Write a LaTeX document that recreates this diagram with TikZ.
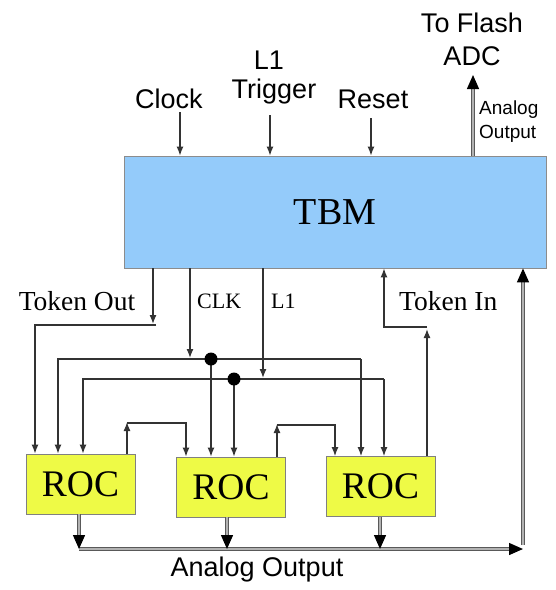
\documentclass[tikz,border=0pt]{standalone}
\usepackage{fontspec}
\setmainfont{Liberation Serif}
\newfontfamily\arialf{Liberation Sans}
\usetikzlibrary{arrows.meta}
\definecolor{tbmblue}{RGB}{148,203,250}
\definecolor{rocyellow}{RGB}{238,250,70}
\begin{document}
\begin{tikzpicture}[x=1pt,y=-1pt,
  wire/.style={draw=black!80, line width=1.3pt},
  arr/.style={wire, -{Latex[length=9pt,width=7pt]}},
  dbl/.style={draw=black!65, double=black!30, double distance=1.6pt, line width=1.4pt},
  darr/.style={dbl, -{Triangle[length=14pt,width=12pt,color=black]}},
  sans/.style={font=\arialf\fontsize{27}{30}\selectfont, inner sep=0pt},
  smallsans/.style={font=\arialf\fontsize{19}{22}\selectfont, inner sep=0pt},
  ser/.style={font=\fontsize{27.5}{30}\selectfont, inner sep=0pt},
  smallser/.style={font=\fontsize{22}{24}\selectfont, inner sep=0pt},
  tbmbox/.style={draw=black!45, line width=0.8pt, fill=tbmblue, minimum width=422pt, minimum height=112pt, font=\fontsize{38}{40}\selectfont},
  rocbox/.style={draw=black!50, line width=0.8pt, fill=rocyellow, minimum width=109pt, minimum height=60pt, font=\fontsize{37.5}{40}\selectfont, inner sep=0pt},
  jdot/.style={fill=black}
]
\useasboundingbox (0,0) rectangle (556,590);

% boxes
\node[tbmbox] (tbm) at (335,212) {TBM};
\node[rocbox] (roc1) at (80.5,484) {ROC};
\node[rocbox] (roc2) at (231,487) {ROC};
\node[rocbox] (roc3) at (380.5,486.5) {ROC};

% top labels
\node[sans, anchor=base] (clock) at (169,108) {Clock};
\node[sans, anchor=base] (l1a) at (269,69) {L1};
\node[sans, anchor=base] (trig) at (274,98) {Trigger};
\node[sans, anchor=base] (reset) at (373,108) {Reset};
\node[sans, anchor=base] (tf) at (472,32) {To Flash};
\node[sans, anchor=base] (adc) at (472,65) {ADC};
\node[smallsans, anchor=base west] (ao1) at (479,114) {Analog};
\node[smallsans, anchor=base west] (ao2) at (479,138) {Output};

% lower labels
\node[ser, anchor=base] (tout) at (77,310) {Token Out};
\node[smallser, anchor=base west] (clk) at (197,308) {CLK};
\node[smallser, anchor=base west] (l1) at (271,308) {L1};
\node[ser, anchor=base west] (tin) at (399,310) {Token In};
\node[sans, anchor=base] (aobot) at (257,576) {Analog Output};

% inputs to TBM
\coordinate (clkin) at (180,112);
\coordinate (l1in) at (270,115);
\coordinate (rstin) at (371,118);
\draw[arr] (clkin) -- (clkin |- tbm.north);
\draw[arr] (l1in) -- (l1in |- tbm.north);
\draw[arr] (rstin) -- (rstin |- tbm.north);

% analog output to flash ADC
\coordinate (au) at (473,75);
\draw[darr] (au |- tbm.north) -- (au);

% token out
\coordinate (to) at (153,324);
\coordinate (tw) at (156,325);
\coordinate (r1a) at (35,325);
\draw[arr] (to |- tbm.south) -- (to);
\draw[arr] (tw) -- (r1a) -- (r1a |- roc1.north);

% CLK distribution
\coordinate (cb) at (190,358);
\coordinate (cbl) at (58,359);
\coordinate (cbr) at (361,359);
\coordinate (dot1) at (211,359);
\draw[arr] (cb |- tbm.south) -- (cb);
\draw[arr] (cbr) -- (cbl) -- (cbl |- roc1.north);
\draw[arr] (cbr) -- (cbr |- roc3.north);
\draw[arr] (dot1) -- (dot1 |- roc2.north);
\fill[jdot] (dot1) circle (6.5pt);

% L1 distribution
\coordinate (lb) at (263,378);
\coordinate (lbl) at (83,379);
\coordinate (lbr) at (384,379);
\coordinate (dot2) at (234,379);
\draw[arr] (lb |- tbm.south) -- (lb);
\draw[arr] (lbr) -- (lbl) -- (lbl |- roc1.north);
\draw[arr] (lbr) -- (lbr |- roc3.north);
\draw[arr] (dot2) -- (dot2 |- roc2.north);
\fill[jdot] (dot2) circle (6.5pt);

% token passing between ROCs
\coordinate (f1) at (127,422);
\coordinate (f1b) at (186,423);
\draw[arr] (f1 |- roc1.north) -- (f1);
\draw[arr] (f1) ++(0,1) -- (f1b) -- (f1b |- roc2.north);
\coordinate (f2) at (277,424);
\coordinate (f2b) at (335,425);
\draw[arr] (f2 |- roc2.north) -- (f2);
\draw[arr] (f2) ++(0,1) -- (f2b) -- (f2b |- roc3.north);

% token in
\coordinate (ti) at (427,329);
\coordinate (tiw) at (427,327);
\coordinate (tic) at (384,327);
\draw[arr] (ti |- roc3.north) -- (ti);
\draw[arr] (tiw) -- (tic) -- (tic |- tbm.south);

% analog output bus
\coordinate (o1) at (79,549);
\coordinate (o2) at (227,549);
\coordinate (o3) at (380,549);
\coordinate (busr) at (523,549);
\coordinate (vb) at (523,545);
\draw[darr] (o1) -- (busr);
\draw[darr] (vb) -- (vb |- tbm.south);
\draw[darr] (o1 |- roc1.south) -- (o1);
\draw[darr] (o2 |- roc2.south) -- (o2);
\draw[darr] (o3 |- roc3.south) -- (o3);
\end{tikzpicture}
\end{document}
